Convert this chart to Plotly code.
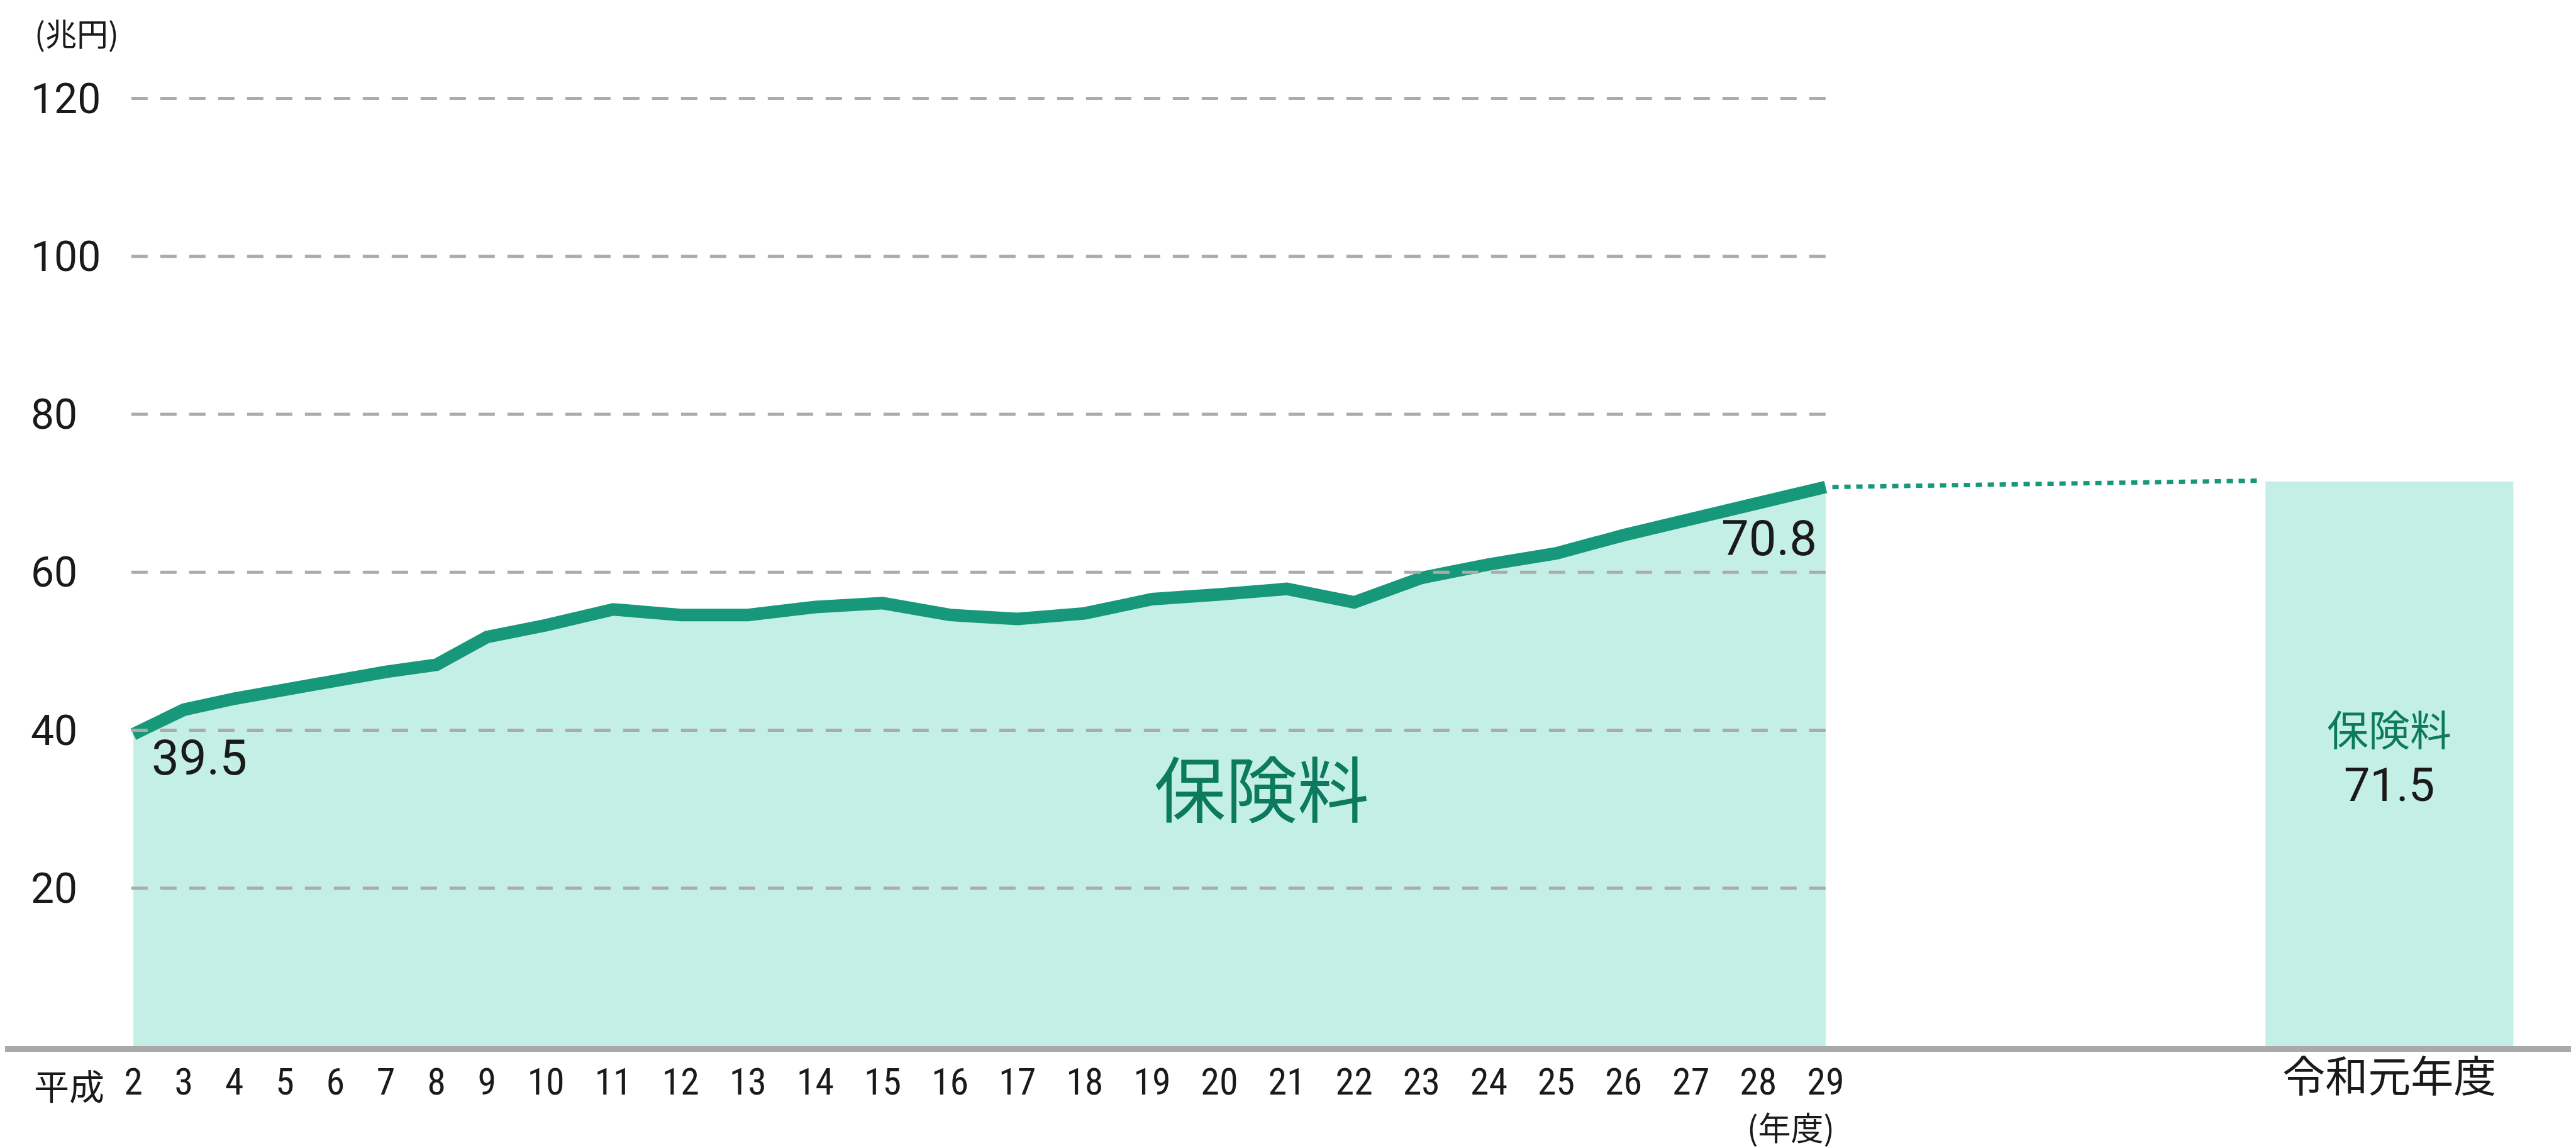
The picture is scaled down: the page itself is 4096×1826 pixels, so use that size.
import plotly.graph_objects as go

# ---------------- data ----------------
years = ["2", "3", "4", "5", "6", "7", "8", "9", "10", "11", "12", "13", "14", "15",
         "16", "17", "18", "19", "20", "21", "22", "23", "24", "25", "26", "27", "28", "29"]
premiums = [39.5, 42.6, 44.0, 45.2, 46.4, 47.4, 48.3, 51.8, 53.3, 55.3, 54.6, 54.6, 55.6, 56.1,
            54.6, 54.1, 54.8, 56.6, 57.2, 57.9, 56.2, 59.3, 61.0, 62.4, 64.7, 66.7, 68.7, 70.8]
reiwa_label = "令和元年度"
reiwa_value = 71.5
y_ticks = [20, 40, 60, 80, 100, 120]

# ---------------- styling ----------------
GREEN = "#17987a"
GREEN_TXT = "#0b7a5e"
FILL = "#c4efe6"
GRID = "#ababab"
AXIS = "#a9a9a9"
TXT = "#1a1a1a"
CJK = "Noto Sans CJK JP"
NUM = "Roboto, Noto Sans CJK JP"
NARROW = "Roboto Condensed, DejaVu Sans Condensed, Liberation Sans Narrow, Roboto, Noto Sans CJK JP"

# label slots: single-digit year labels take a narrower slot than two-digit ones
slot = [0.75 if len(y) == 1 else 1.0 for y in years]
pos = [0.0]
for i in range(1, len(years)):
    pos.append(pos[-1] + (slot[i - 1] + slot[i]) / 2)

BAR_GAP = 8.37
BAR_W = 3.68
bar_pos = pos[-1] + BAR_GAP
x_range = [-1.905, 36.34]

fig = go.Figure()

# area + line
fig.add_trace(go.Scatter(
    x=pos, y=premiums, mode="lines",
    line=dict(color=GREEN, width=20),
    fill="tozeroy", fillcolor=FILL,
    hoverinfo="skip", showlegend=False,
))

# Reiwa bar
fig.add_trace(go.Bar(
    x=[bar_pos], y=[reiwa_value], width=[BAR_W],
    marker=dict(color=FILL, line=dict(width=0)),
    hoverinfo="skip", showlegend=False,
))

# dotted connector
fig.add_trace(go.Scatter(
    x=[pos[-1] + 0.1, bar_pos - BAR_W / 2 - 0.12], y=[premiums[-1], reiwa_value + 0.1],
    mode="lines", line=dict(color=GREEN, width=7, dash="10px,9px"),
    hoverinfo="skip", showlegend=False,
))

# dashed gridlines over the area chart only
shapes = []
for t in y_ticks:
    shapes.append(dict(
        type="line", xref="x", yref="y", x0=pos[0] - 0.03, x1=pos[-1], y0=t, y1=t,
        line=dict(color=GRID, width=5, dash="26px,20px"), layer="above",
    ))

annotations = [
    dict(text="(兆円)", xref="paper", yref="paper", x=45 / 4096, y=1.0,
         xanchor="left", yanchor="middle", yshift=-20, showarrow=False,
         font=dict(family=CJK, size=50, color=TXT)),
    dict(text=f"{premiums[0]}", xref="x", yref="y", x=pos[0], y=premiums[0],
         xanchor="left", yanchor="middle", xshift=27, yshift=-38, showarrow=False,
         font=dict(family=NUM, size=78, color=TXT)),
    dict(text=f"{premiums[-1]}", xref="x", yref="y", x=pos[-1], y=premiums[-1],
         xanchor="right", yanchor="middle", xshift=-12, yshift=-82, showarrow=False,
         font=dict(family=NUM, size=78, color=TXT)),
    dict(text="保険料", xref="x", yref="y", x=16.75, y=33.0,
         xanchor="center", yanchor="middle", showarrow=False,
         font=dict(family=CJK, size=114, color=GREEN_TXT)),
    dict(text="保険料", xref="x", yref="y", x=bar_pos, y=40.4,
         xanchor="center", yanchor="middle", showarrow=False,
         font=dict(family=CJK, size=66, color=GREEN_TXT)),
    dict(text=f"{reiwa_value}", xref="x", yref="y", x=bar_pos, y=33.1,
         xanchor="center", yanchor="middle", showarrow=False,
         font=dict(family=NUM, size=74, color=TXT)),
    dict(text="平成", xref="x", yref="y", x=pos[0], y=0,
         xanchor="right", yanchor="middle", xshift=-44, yshift=-60, showarrow=False,
         font=dict(family=CJK, size=56, color=TXT)),
    dict(text="(年度)", xref="x", yref="y", x=pos[-1], y=0,
         xanchor="right", yanchor="middle", xshift=16, yshift=-127, showarrow=False,
         font=dict(family=CJK, size=52, color=TXT)),
]

fig.update_layout(
    width=4096, height=1826,
    margin=dict(l=0, r=0, t=23, b=170, pad=0),
    paper_bgcolor="white", plot_bgcolor="white",
    showlegend=False,
    shapes=shapes,
    annotations=annotations,
    xaxis=dict(
        range=x_range, tickmode="array", tickvals=pos, ticktext=years,
        showgrid=False, zeroline=False, showline=True, linecolor=AXIS, linewidth=9,
        ticks="", tickfont=dict(family=NARROW, size=60, color=TXT),
        ticklabelstandoff=-4, fixedrange=True,
    ),
    xaxis2=dict(
        overlaying="x", matches="x", range=x_range, anchor="y", side="bottom",
        tickmode="array", tickvals=[bar_pos], ticktext=[reiwa_label],
        showgrid=False, zeroline=False, showline=False, ticks="",
        tickfont=dict(family=CJK, size=68, color=TXT), ticklabelstandoff=4,
    ),
    yaxis=dict(
        range=[0, 130], tickmode="array", tickvals=y_ticks,
        showgrid=False, zeroline=False, showline=False, ticks="",
        ticklabelposition="inside", ticklabelstandoff=38,
        tickfont=dict(family=NUM, size=66, color=TXT), fixedrange=True,
    ),
)

# invisible trace to activate xaxis2
fig.add_trace(go.Scatter(x=[bar_pos], y=[0], xaxis="x2", yaxis="y", mode="markers",
                         marker=dict(opacity=0), hoverinfo="skip", showlegend=False))

fig.write_html("out.html")
